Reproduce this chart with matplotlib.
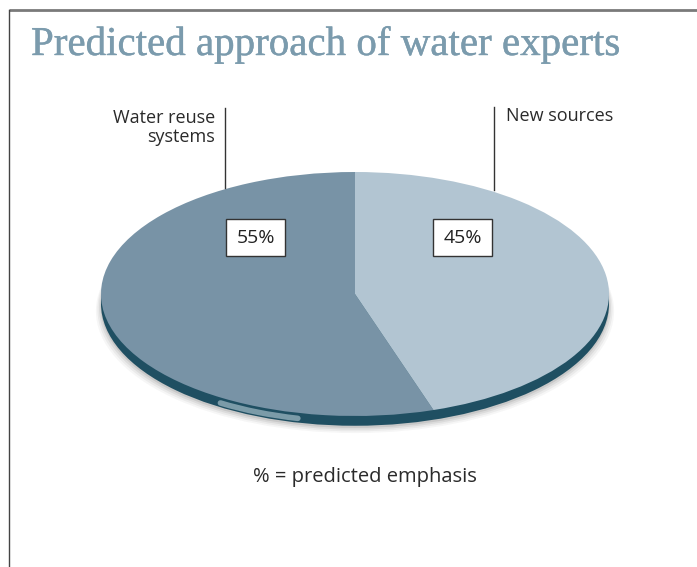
import matplotlib.pyplot as plt
import matplotlib.patheffects as pe
from matplotlib.patches import Ellipse, Rectangle, Arc

# data
categories = ["Water reuse\nsystems", "New sources"]
shares = [55, 45]
slice_colors = ["#7893a6", "#b2c5d2"]
title = "Predicted approach of water experts"
note = "% = predicted emphasis"

W, H = 697, 567
fig = plt.figure(figsize=(W / 100, H / 100), dpi=100)
fig.patch.set_facecolor("white")

# pie axes squashed into an ellipse (pixel box x 101..609, y 172..416)
px0, px1, py0, py1 = 101, 609, 172, 416
ax = fig.add_axes([px0 / W, 1 - py1 / H, (px1 - px0) / W, (py1 - py0) / H])

# soft shadow + dark rim under the top face
for i, a in enumerate([0.04, 0.06, 0.08, 0.11]):
    ax.add_patch(Ellipse((0, -0.14 + i * 0.014), 2.04 - i * 0.012, 2.0, color="#303030",
                         alpha=a, lw=0, zorder=0, clip_on=False))
ax.add_patch(Ellipse((0, -0.08), 2.0, 2.0, color="#1f4f62", lw=0, zorder=1, clip_on=False))
# glint on the rim
ax.add_patch(Arc((0, -0.045), 2.0, 2.0, theta1=238, theta2=257, color="#b9ced8",
                 lw=4, alpha=0.6, zorder=1.5, clip_on=False, capstyle="round"))

wedges, _ = ax.pie(shares, colors=slice_colors, startangle=90, counterclock=True,
                   radius=1, wedgeprops=dict(lw=0))
for w in wedges:
    w.set_zorder(2)
    w.set_clip_on(False)
ax.set_aspect("auto")
ax.set_xlim(-1, 1)
ax.set_ylim(-1, 1)
ax.axis("off")

# overlay in pixel coordinates
ov = fig.add_axes([0, 0, 1, 1], facecolor="none")
ov.set_xlim(0, W)
ov.set_ylim(H, 0)
ov.axis("off")

# frame lines
ov.plot([9, W], [10, 10], color="#7a7a7a", lw=2, solid_capstyle="butt")
ov.plot([9, 9], [10, H], color="#444444", lw=1)

ov.text(31, 55, title, fontsize=29.5, family="Liberation Serif", color="#7b9bad",
        ha="left", va="baseline",
        path_effects=[pe.withStroke(linewidth=0.3, foreground="#7b9bad")])

# category labels with leader lines
ov.plot([225, 225], [108, 188], color="#333333", lw=1)
ov.text(215, 142, categories[0], fontsize=13, family="Open Sans", color="#2a2a2a",
        ha="right", va="baseline", linespacing=1.1)
ov.plot([494, 494], [107, 190], color="#333333", lw=1)
ov.text(506, 121, categories[1], fontsize=13, family="Open Sans", color="#2a2a2a",
        ha="left", va="baseline")

# percentage boxes
for (bx, by), v in zip([(226, 219), (433, 219)], shares):
    ov.add_patch(Rectangle((bx, by), 59, 37, facecolor="white", edgecolor="#333333", lw=1))
    ov.text(bx + 29.5, by + 19, f"{v}%", fontsize=14, family="Open Sans", color="#222222",
            ha="center", va="center")

ov.text(365, 477, note, fontsize=14.5, family="Open Sans", color="#2a2a2a",
        ha="center", va="center")

fig.savefig("out.png", dpi=100)
